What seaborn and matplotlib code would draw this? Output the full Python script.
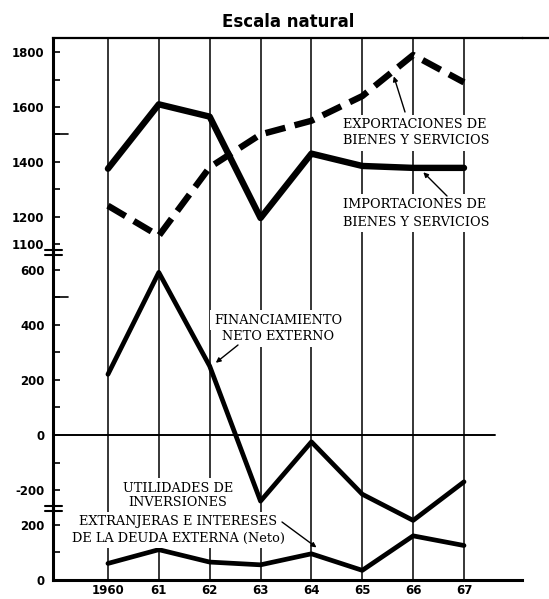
import matplotlib
matplotlib.use('Agg')
import matplotlib.pyplot as plt
from matplotlib.lines import Line2D
import numpy as np
import pandas as pd
import seaborn as sns

# datos (millones de dolares)
years = [1960, 1961, 1962, 1963, 1964, 1965, 1966, 1967]
year_labels = ['1960', '61', '62', '63', '64', '65', '66', '67']
importaciones = [1375, 1610, 1565, 1195, 1430, 1385, 1378, 1378]
exportaciones = [1240, 1130, 1380, 1500, 1550, 1640, 1790, 1690]
financiamiento = [220, 590, 250, -240, -25, -215, -310, -170]
utilidades = [60, 110, 65, 55, 95, 35, 160, 125]

sns.set_style('white')
plt.rcParams['font.family'] = ['DejaVu Sans']
plt.rcParams['text.color'] = 'black'

W, H = 549, 599
fig = plt.figure(figsize=(W / 100, H / 100), dpi=100)


def px_rect(x0, y0, x1, y1):
    return [x0 / W, 1 - y1 / H, (x1 - x0) / W, (y1 - y0) / H]


X0, X1 = 53, 522
ax_top = fig.add_axes(px_rect(X0, 38, X1, 252))
ax_mid = fig.add_axes(px_rect(X0, 252, X1, 508))
ax_bot = fig.add_axes(px_rect(X0, 508, X1, 580))
axes = [ax_top, ax_mid, ax_bot]

xlim = (1958.92, 1968.14)
ax_top.set_ylim(1071, 1852)
ax_mid.set_ylim(-265, 664)
ax_bot.set_ylim(0, 261)

for ax in axes:
    ax.set_facecolor('none')
    ax.set_xlim(xlim)
    for y in years:
        ax.axvline(y, color='black', lw=1.1, zorder=1)
    for s in ['top', 'right', 'bottom']:
        ax.spines[s].set_visible(False)
    ax.spines['left'].set_linewidth(2.2)
    ax.spines['left'].set_color('black')
    ax.tick_params(axis='y', which='both', direction='in', length=5, width=1.2,
                   pad=6, labelsize=8.5, colors='black', left=True)
    ax.tick_params(axis='x', which='both', length=0)
    ax.set_xticks([])

ax_top.spines['top'].set_visible(True)
ax_top.spines['top'].set_linewidth(1.6)
ax_top.spines['top'].set_color('black')
ax_top.plot([1, (549 - X0) / (X1 - X0)], [1, 1], transform=ax_top.transAxes,
            color='black', lw=1.6, clip_on=False)
ax_bot.spines['bottom'].set_visible(True)
ax_bot.spines['bottom'].set_linewidth(2.2)
ax_bot.spines['bottom'].set_color('black')
ax_mid.axhline(0, xmax=(495 - X0) / (X1 - X0), color='black', lw=1.4, zorder=1)

ax_top.set_yticks([1100, 1200, 1400, 1600, 1800])
ax_top.set_yticks([1300, 1500, 1700], minor=True)
ax_mid.set_yticks([-200, 0, 200, 400, 600])
ax_mid.set_yticks([-100, 100, 300, 500], minor=True)
ax_bot.set_yticks([0, 200])
ax_bot.set_yticks([100], minor=True)
for ax in axes:
    ax.set_yticklabels([str(int(t)) for t in ax.get_yticks()], fontweight='bold', fontsize=8.5)

# marcas largas
ax_top.axhline(1500, xmax=15 / (X1 - X0), color='black', lw=1.2)
ax_mid.axhline(500, xmax=15 / (X1 - X0), color='black', lw=1.2)

# cortes del eje
for yy in [250, 255, 506, 511]:
    fig.add_artist(Line2D([45 / W, 62 / W], [1 - yy / H, 1 - yy / H], color='black', lw=1.5))

df = pd.DataFrame({'year': years, 'imp': importaciones, 'exp': exportaciones,
                   'fin': financiamiento, 'util': utilidades})

sns.lineplot(data=df, x='year', y='imp', ax=ax_top, color='black', lw=4.6, zorder=3)
sns.lineplot(data=df, x='year', y='exp', ax=ax_top, color='black', lw=4.6, zorder=3)
ax_top.lines[-1].set_linestyle((0, (3.2, 1.5)))
ax_top.lines[-1].set_dash_capstyle('butt')
sns.lineplot(data=df, x='year', y='fin', ax=ax_mid, color='black', lw=3.4, zorder=3)
ax_mid.lines[-1].set_clip_on(False)
sns.lineplot(data=df, x='year', y='util', ax=ax_bot, color='black', lw=3.4, zorder=3)

for ax in axes:
    ax.set_xlabel('')
    ax.set_ylabel('')
    ax.set_xlim(xlim)

ax_bot.set_xticks(years)
ax_bot.set_xticklabels(year_labels, fontweight='bold', fontsize=8.5, color='black')
ax_bot.tick_params(axis='x', length=0, pad=3)

fig.text(288 / W, 1 - 22 / H, 'Escala natural', ha='center', va='center',
         fontweight='bold', fontsize=12, color='black')

serif = dict(family='DejaVu Serif', fontsize=9.3, color='black')
box = dict(fc='white', ec='none', pad=2.5)
arrow = dict(arrowstyle='-|>', color='black', lw=1, mutation_scale=7, shrinkA=0, shrinkB=0)


def label(ax, text, x, y, ha='left'):
    ax.annotate(text, xy=(x, H - y), xycoords='figure pixels', ha=ha, va='center',
                bbox=box, zorder=4, annotation_clip=False, **serif)


def pointer(ax, tip, tail):
    ax.annotate('', xy=tip, xycoords='data', xytext=(tail[0], H - tail[1]),
                textcoords='figure pixels', arrowprops=arrow, annotation_clip=False, zorder=5)


label(ax_top, 'EXPORTACIONES DE', 343, 125)
label(ax_top, 'BIENES Y SERVICIOS', 343, 141)
pointer(ax_top, (1965.62, 1712), (405, 112))

label(ax_top, 'IMPORTACIONES DE', 343, 204)
label(ax_top, 'BIENES Y SERVICIOS', 343, 222)
pointer(ax_top, (1966.2, 1362), (447, 196))

label(ax_mid, 'FINANCIAMIENTO', 278, 320, ha='center')
label(ax_mid, 'NETO EXTERNO', 278, 337, ha='center')
pointer(ax_mid, (1962.12, 262), (238, 345))

label(ax_bot, 'UTILIDADES DE', 178, 488, ha='center')
label(ax_bot, 'INVERSIONES', 178, 503, ha='center')
label(ax_bot, 'EXTRANJERAS E INTERESES', 178, 522, ha='center')
label(ax_bot, 'DE LA DEUDA EXTERNA (Neto)', 178, 538, ha='center')
pointer(ax_bot, (1964.1, 118), (282, 522))

fig.savefig('out.png', dpi=100)
